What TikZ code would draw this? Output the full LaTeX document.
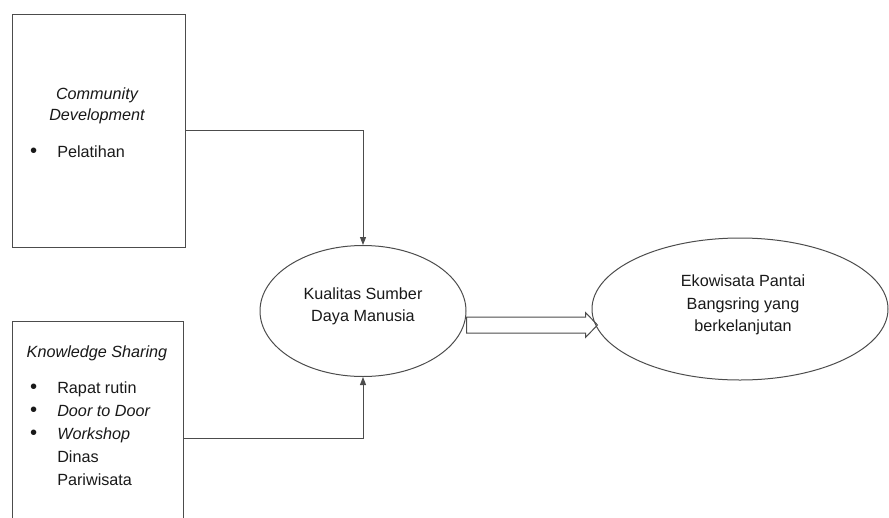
\documentclass[tikz,border=0pt]{standalone}
\usepackage{fontspec}
\setmainfont{Liberation Sans}
\usetikzlibrary{shapes, positioning, arrows.meta, calc}

\newcommand{\itembullet}{\scalebox{1.25}{\textbullet}}

\begin{document}
\begin{tikzpicture}[
    x=1pt, y=-1pt,
    every node/.style={font=\fontsize{16.2}{22.5}\selectfont, text=black!90},
    box/.style={rectangle, draw=black!70, line width=1pt, inner sep=0pt},
    oval/.style={ellipse, draw=black!70, line width=1pt, inner sep=0pt},
    lbl/.style={align=center, inner sep=0pt},
    list/.style={inner sep=0pt, anchor=base west, font=\fontsize{16.2}{23}\selectfont},
    link/.style={draw=black!70, line width=1pt, -{Triangle[width=6pt, length=8pt]}}
]
    \useasboundingbox (0,0) rectangle (889,517);
    \clip (0,0) rectangle (889,517);

    % Faktor
    \node[box, minimum width=173pt, minimum height=233pt] (CD) at (98.5,130.5) {};
    \node[box, minimum width=171pt, minimum height=234pt] (KS) at (97.5,438) {};

    \node[lbl, font=\fontsize{16.2}{21.5}\selectfont\itshape] (CDtitle) at (97,106) {Community\\Development};
    \node[list] (CDlist) at (30,157) {\begin{tabular}[t]{@{}l@{\hspace{20pt}}l@{}}
        \itembullet & Pelatihan
    \end{tabular}};

    \node[lbl, anchor=base, font=\fontsize{16.2}{22.5}\selectfont\itshape] (KStitle) at (97,357) {Knowledge Sharing};
    \node[list] (KSlist) at (30,393) {\begin{tabular}[t]{@{}l@{\hspace{20pt}}l@{}}
        \itembullet & Rapat rutin\\
        \itembullet & \textit{Door to Door}\\
        \itembullet & \textit{Workshop}\\
                    & Dinas\\
                    & Pariwisata
    \end{tabular}};

    % SDM dan ekowisata
    \node[oval, minimum width=206pt, minimum height=131pt] (SDM) at (363,311) {};
    \node[lbl] (SDMtext) at (363,306.5) {Kualitas Sumber\\Daya Manusia};

    \node[oval, minimum width=296pt, minimum height=142pt] (EKO) at (740,309) {};
    \node[lbl] (EKOtext) at (743,305) {Ekowisata Pantai\\Bangsring yang\\berkelanjutan};

    \draw[link] (CD.east) -| (SDM.north);
    \draw[link] (KS.east) -| (SDM.south);

    % panah kosong
    \draw[draw=black!70, line width=1pt] (SDM.east) ++(0,6) -- ++(119,0) -- ++(0,-4.5)
        -- ++(12,12.5) -- ++(-12,12.5) -- ++(0,-4.5) -- ++(-119,0) -- cycle;
\end{tikzpicture}
\end{document}
